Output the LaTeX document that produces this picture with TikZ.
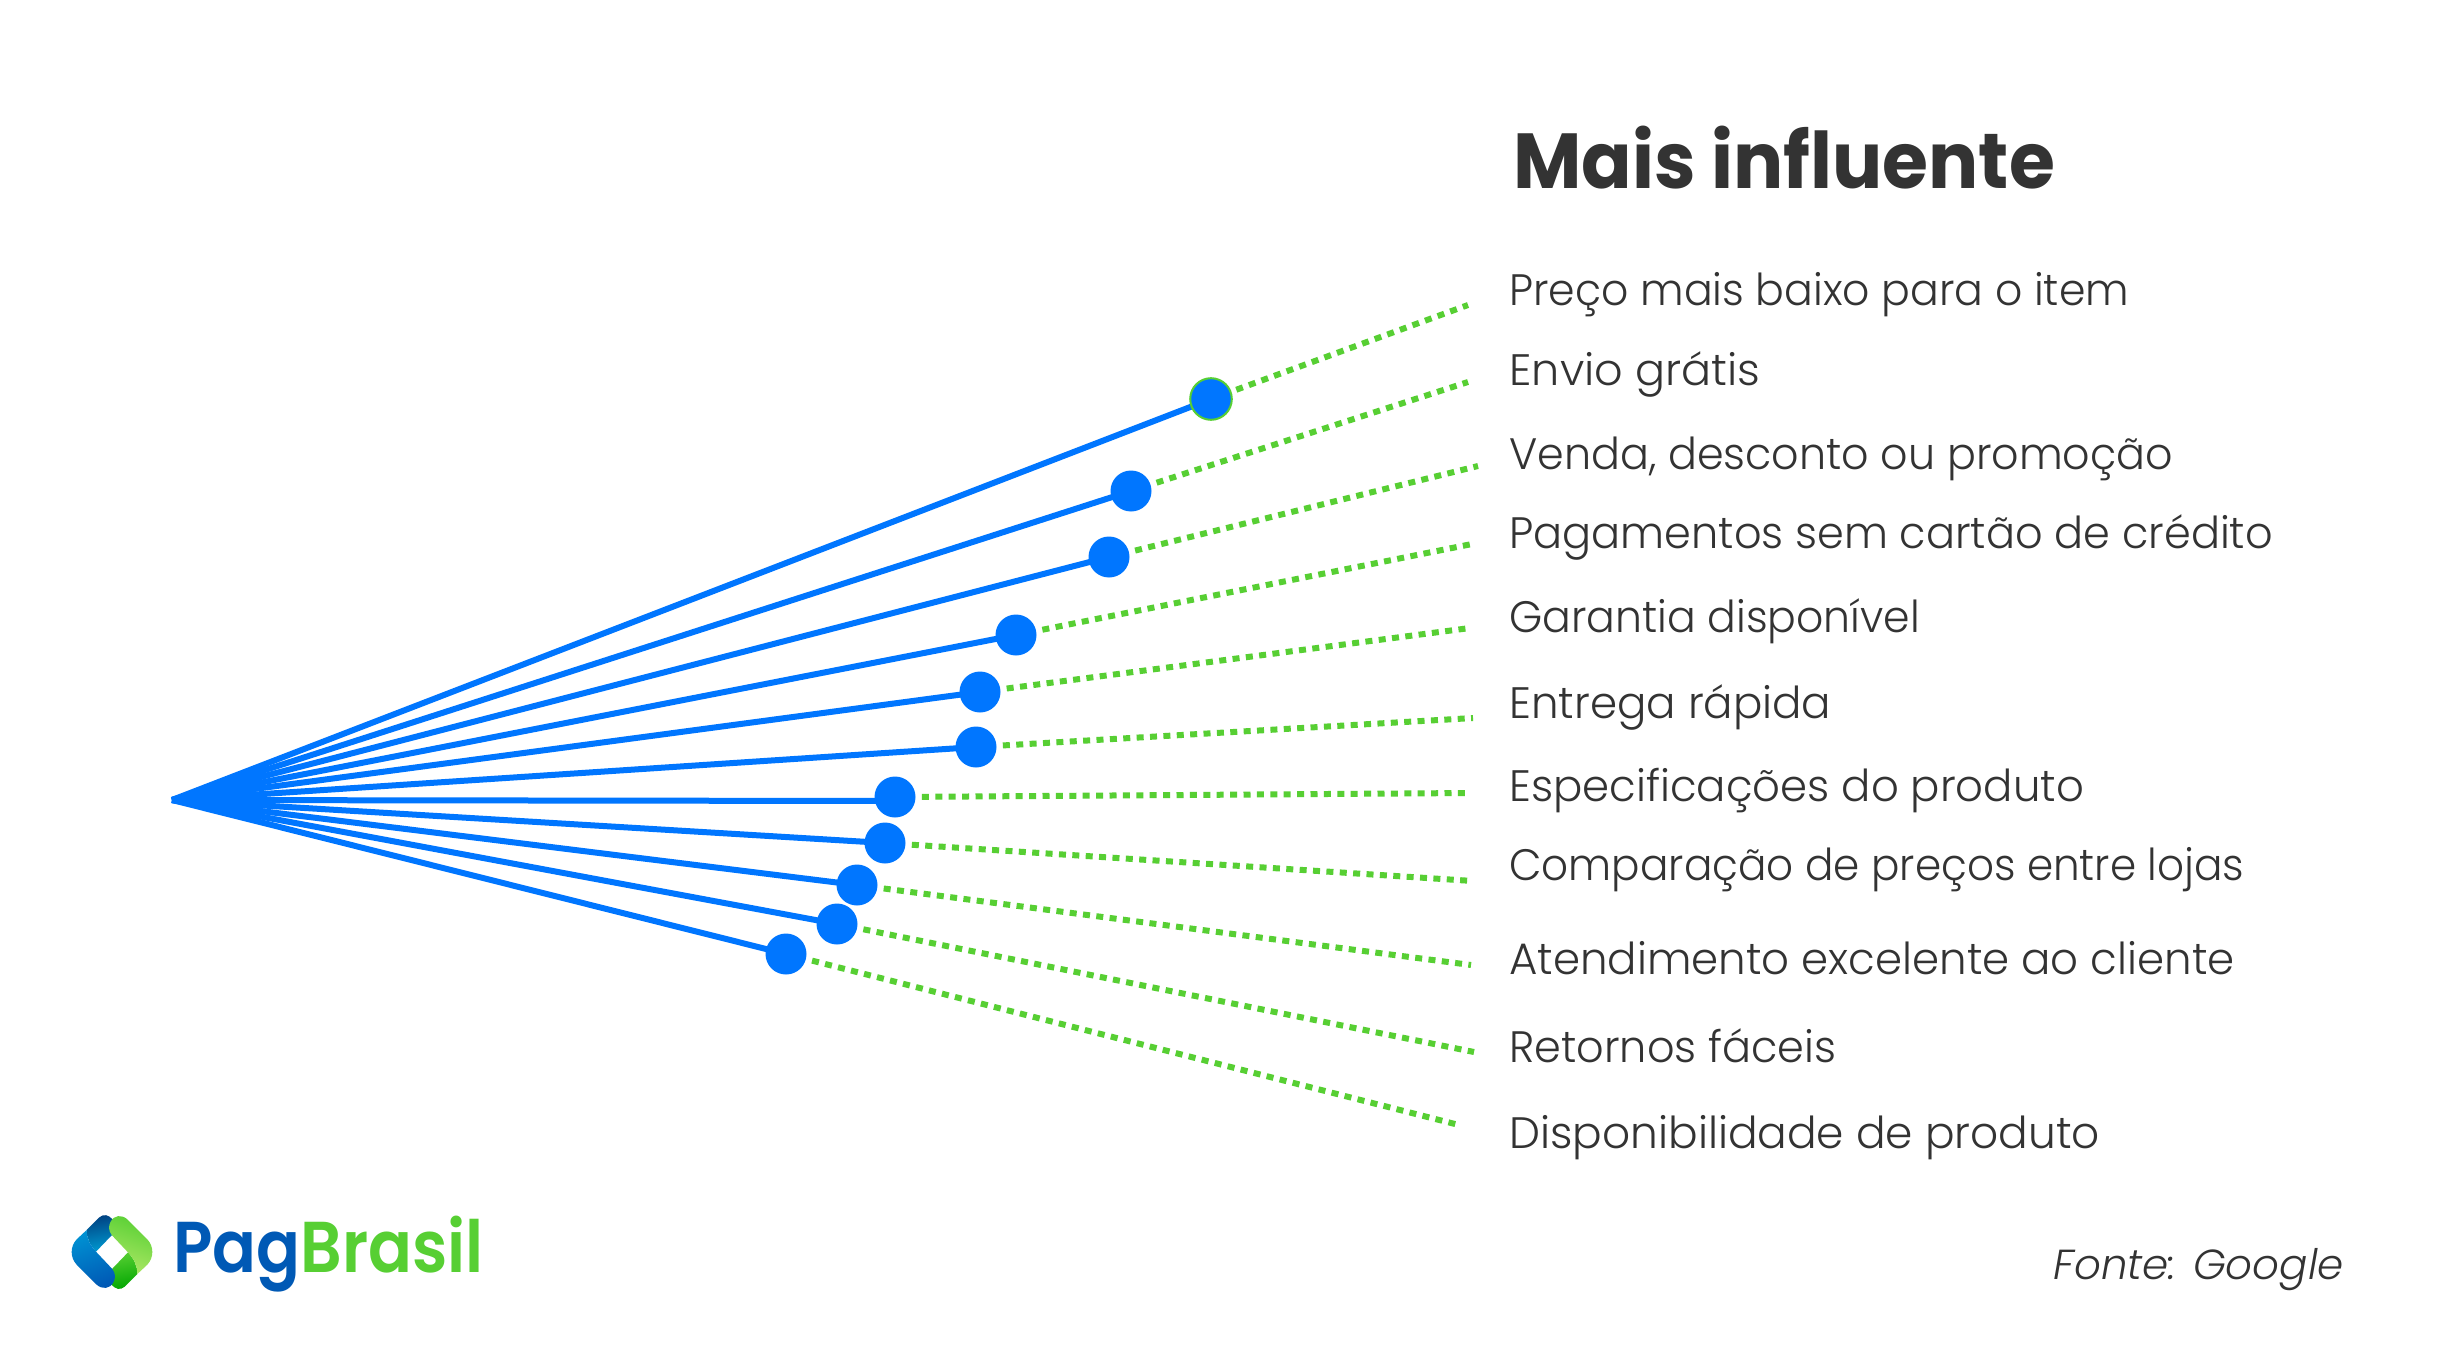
\documentclass[tikz,border=0pt]{standalone}
\usepackage{fontspec}
\setmainfont{Poppins}
\newfontfamily\labfont{Poppins Light}
\newfontfamily\titfont{Poppins Bold}
\newfontfamily\logofont{Poppins SemiBold}
\newfontfamily\itfont{Poppins Light Italic}
\definecolor{bluel}{HTML}{0076FF}
\definecolor{greenl}{HTML}{57CF33}
\definecolor{txt}{HTML}{333333}
\definecolor{logob}{HTML}{0059B5}
\newcommand{\sx}[2]{\scalebox{#1}[1]{#2}}
\tikzset{
 dotn/.style={circle,fill=bluel,minimum size=20.5pt,inner sep=0pt},
 bline/.style={draw=bluel,line width=3pt},
 gline/.style={draw=greenl,line width=3pt,dash pattern=on 3.5pt off 3.2pt,shorten <=3pt},
 lab/.style={anchor=base west,inner sep=0pt,text=txt,font=\labfont\fontsize{22}{26}\selectfont},
}
\begin{document}
\begin{tikzpicture}[x=0.5pt,y=-0.5pt]
\useasboundingbox (0,0) rectangle (2444,1358);
\fill[white] (0,0) rectangle (2444,1358);
\coordinate (o) at (172,800);
\foreach \n/\x/\y/\ex/\ey/\off in {1/1211/399/1468/305/0,2/1131/491/1468/382/0,3/1109/557/1478/466/0,4/1016/635/1472/544/0,5/980/692/1470/628/0,6/976/747/1473/718/0,7/895/797/1471/793/-2,8/885/843/1473/881/0,9/857/885/1471/965/0,10/837/924/1474/1052/0,11/786/954/1459/1125/0}{
  \node[dotn] (d\n) at (\x,\y) {};
  \coordinate (e\n) at (\ex,\ey);
  \draw[bline] (o) -- ([yshift=\off pt]d\n.center);
  \draw[gline] (d\n) -- (e\n);
}
\draw[greenl,line width=1pt] (d1) circle (10.4pt);
\node[lab] (t1) at (1509,305.5) {\sx{.968}{Preço mais baixo para o item}};
\node[lab] (t2) at (1509,385.5) {\sx{1.012}{Envio grátis}};
\node[lab] (t3) at (1509,469.5) {\sx{.973}{Venda, desconto ou promoção}};
\node[lab] (t4) at (1509,548.5) {\sx{.978}{Pagamentos sem cartão de crédito}};
\node[lab] (t5) at (1509,632.5) {\sx{.967}{Garantia disponível}};
\node[lab] (t6) at (1509,718.5) {\sx{.99}{Entrega rápida}};
\node[lab] (t7) at (1509,801.5) {\sx{.987}{Especificações do produto}};
\node[lab] (t8) at (1509,880.5) {\sx{.957}{Comparação de preços entre lojas}};
\node[lab] (t9) at (1509,974.5) {\sx{.989}{Atendimento excelente ao cliente}};
\node[lab] (t10) at (1509,1062.5) {\sx{.977}{Retornos fáceis}};
\node[lab] (t11) at (1509,1148.5) {\sx{.997}{Disponibilidade de produto}};
\node[anchor=base west,inner sep=0pt,text=txt,font=\titfont\fontsize{39}{44}\selectfont] (title) at (1513,188.5) {\sx{.955}{Mais influente}};
\node[anchor=base west,inner sep=0pt,text=txt,font=\itfont\fontsize{21}{25}\selectfont] (fonte) at (2053,1279) {Fonte: Google};
% logo
\begin{scope}[shift={(40,1180)},x=0.16667pt,y=-0.16667pt]
 \shade[top color=logob!70!black,bottom color=logob!60!cyan,shading angle=10]
   (140,150) -- (178,112) .. controls (192,100) and (205,105) .. (218,118) -- (240,140) -- (168,215) .. controls (150,195) and (140,175) .. (140,150) -- cycle;
 \shade[top color=green!65!black,bottom color=greenl,shading angle=190]
   (292,282) -- (254,320) .. controls (240,332) and (227,327) .. (214,314) -- (192,292) -- (264,217) .. controls (282,237) and (292,257) .. (292,282) -- cycle;
 \shade[top color=greenl,bottom color=greenl!70!yellow!70!white,shading angle=-20]
   (212,125) .. controls (222,105) and (245,103) .. (262,118) -- (322,178) .. controls (342,200) and (342,232) .. (322,254) -- (292,282) .. controls (292,257) and (282,237) .. (264,217) -- (215,165) .. controls (205,150) and (205,138) .. (212,125) -- cycle;
 \shade[top color=blue!10!cyan!40!logob,bottom color=logob,shading angle=20]
   (220,307) .. controls (210,327) and (187,329) .. (170,314) -- (110,254) .. controls (90,232) and (90,200) .. (110,178) -- (140,150) .. controls (140,175) and (150,195) .. (168,215) -- (217,267) .. controls (227,282) and (227,294) .. (220,307) -- cycle;
\end{scope}
\node[anchor=base west,inner sep=0pt,font=\logofont\fontsize{36}{40}\selectfont] (logo) at (173,1272) {\sx{.9}{\textcolor{logob}{Pag}\textcolor{greenl}{Brasil}}};
\end{tikzpicture}
\end{document}
